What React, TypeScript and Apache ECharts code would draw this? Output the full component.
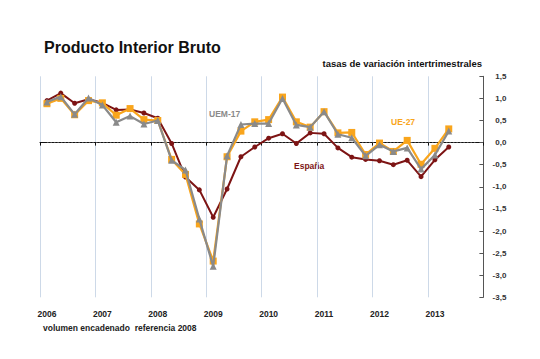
import React, { useEffect, useRef } from "react";
import * as echarts from "echarts";

const years = ["2006", "2007", "2008", "2009", "2010", "2011", "2012", "2013"];
const quarterNames = ["T1", "T2", "T3", "T4"];
const categories = years.flatMap((y) => quarterNames.map((q) => `${y} ${q}`));

// tasas de variación intertrimestrales, 2006 T1 – 2013 T2
const espana = [
  0.95, 1.12, 0.89, 0.98,
  0.9, 0.74, 0.75, 0.67,
  0.55, -0.02, -0.78, -1.07,
  -1.69, -1.05, -0.32, -0.1,
  0.1, 0.2, -0.02, 0.22,
  0.2, -0.12, -0.33, -0.38,
  -0.41, -0.5, -0.4, -0.77,
  -0.39, -0.1,
];
const ue27 = [
  0.88, 1.0, 0.63, 0.95,
  0.9, 0.62, 0.77, 0.52,
  0.5, -0.38, -0.72, -1.84,
  -2.68, -0.32, 0.26, 0.47,
  0.52, 1.03, 0.47, 0.35,
  0.7, 0.22, 0.23, -0.27,
  -0.01, -0.2, 0.05, -0.49,
  -0.13, 0.31,
];
const uem17 = [
  0.92, 1.04, 0.64, 1.01,
  0.85, 0.46, 0.6, 0.42,
  0.5, -0.4, -0.62, -1.73,
  -2.8, -0.3, 0.41, 0.43,
  0.43, 1.0, 0.4, 0.35,
  0.7, 0.19, 0.11, -0.3,
  -0.05, -0.2, -0.12, -0.6,
  -0.28, 0.26,
];

const FONT = "'Liberation Sans', Arial, sans-serif";
const RED = "#7d1414";
const ORANGE = "#f9a51c";
const GRAY = "#8a8a8a";

export default function App() {
  const ref = useRef<HTMLDivElement>(null);

  useEffect(() => {
    if (!ref.current) return;
    const chart = echarts.init(ref.current, null, { renderer: "svg" });
    chart.setOption({
      animation: false,
      backgroundColor: "#ffffff",
      title: [
        {
          text: "Producto Interior Bruto",
          left: 44,
          top: 39,
          padding: 0,
          textStyle: { fontFamily: FONT, fontSize: 16, fontWeight: "bold", color: "#111" },
        },
        {
          text: "tasas de variación intertrimestrales",
          right: 58,
          top: 58,
          padding: 0,
          textStyle: { fontFamily: FONT, fontSize: 9.5, fontWeight: "bold", color: "#111" },
        },
      ],
      grid: { left: 40, right: 56.6, top: 76.3, bottom: 61.7, containLabel: false },
      xAxis: {
        type: "category",
        data: categories,
        boundaryGap: true,
        axisLine: { show: true, lineStyle: { color: "#111", width: 1 } },
        axisTick: { show: true, interval: 3, length: 3, lineStyle: { color: "#111" } },
        axisLabel: {
          interval: 3,
          formatter: (v: string) => v.slice(0, 4),
          margin: 12,
          fontFamily: FONT,
          fontSize: 8.5,
          fontWeight: "bold",
          color: "#222",
        },
        splitLine: { show: true, interval: 3, lineStyle: { color: "#cdd9e8", width: 1 } },
      },
      yAxis: {
        type: "value",
        position: "right",
        min: -3.5,
        max: 1.5,
        interval: 0.5,
        axisLine: { show: true, lineStyle: { color: "#555", width: 1 } },
        axisTick: { show: true, inside: true, length: 4, lineStyle: { color: "#555" } },
        axisLabel: {
          formatter: (v: number) => v.toFixed(1).replace(".", ","),
          align: "right",
          margin: 23,
          fontFamily: FONT,
          fontSize: 8,
          fontWeight: "bold",
          color: "#333",
        },
        splitLine: { show: false },
      },
      series: [
        {
          name: "España",
          type: "line",
          data: espana,
          symbol: "circle",
          symbolSize: 5,
          lineStyle: { color: RED, width: 2 },
          itemStyle: { color: RED },
          z: 3,
          markLine: {
            silent: true,
            symbol: "none",
            label: { show: false },
            lineStyle: { color: "#555", type: [1.5, 2], width: 1 },
            data: [[{ coord: [0, 0] }, { coord: [31, 0] }]],
            z: 1,
          },
        },
        {
          name: "UE-27",
          type: "line",
          data: ue27,
          symbol: "rect",
          symbolSize: 7,
          lineStyle: { color: ORANGE, width: 2.2 },
          itemStyle: { color: ORANGE },
          z: 4,
        },
        {
          name: "UEM-17",
          type: "line",
          data: uem17,
          symbol: "triangle",
          symbolSize: 7,
          lineStyle: { color: GRAY, width: 2.2 },
          itemStyle: { color: GRAY },
          z: 5,
        },
      ],
      graphic: [
        {
          type: "text",
          x: 209,
          y: 113.5,
          style: { text: "UEM-17", fill: "#8a8a8a", fontFamily: FONT, fontSize: 8.5, fontWeight: "bold", textVerticalAlign: "middle" },
        },
        {
          type: "text",
          x: 294,
          y: 166,
          style: { text: "España", fill: RED, fontFamily: FONT, fontSize: 8.5, fontWeight: "bold", textVerticalAlign: "middle" },
        },
        {
          type: "text",
          x: 391,
          y: 122,
          style: { text: "UE-27", fill: ORANGE, fontFamily: FONT, fontSize: 8.5, fontWeight: "bold", textVerticalAlign: "middle" },
        },
        {
          type: "text",
          x: 43,
          y: 328,
          style: { text: "volumen encadenado  referencia 2008", fill: "#222", fontFamily: FONT, fontSize: 8.5, fontWeight: "bold", textVerticalAlign: "middle" },
        },
      ],
    });
    return () => chart.dispose();
  }, []);

  return <div ref={ref} style={{ width: 540, height: 359, margin: -8 }} />;
}
